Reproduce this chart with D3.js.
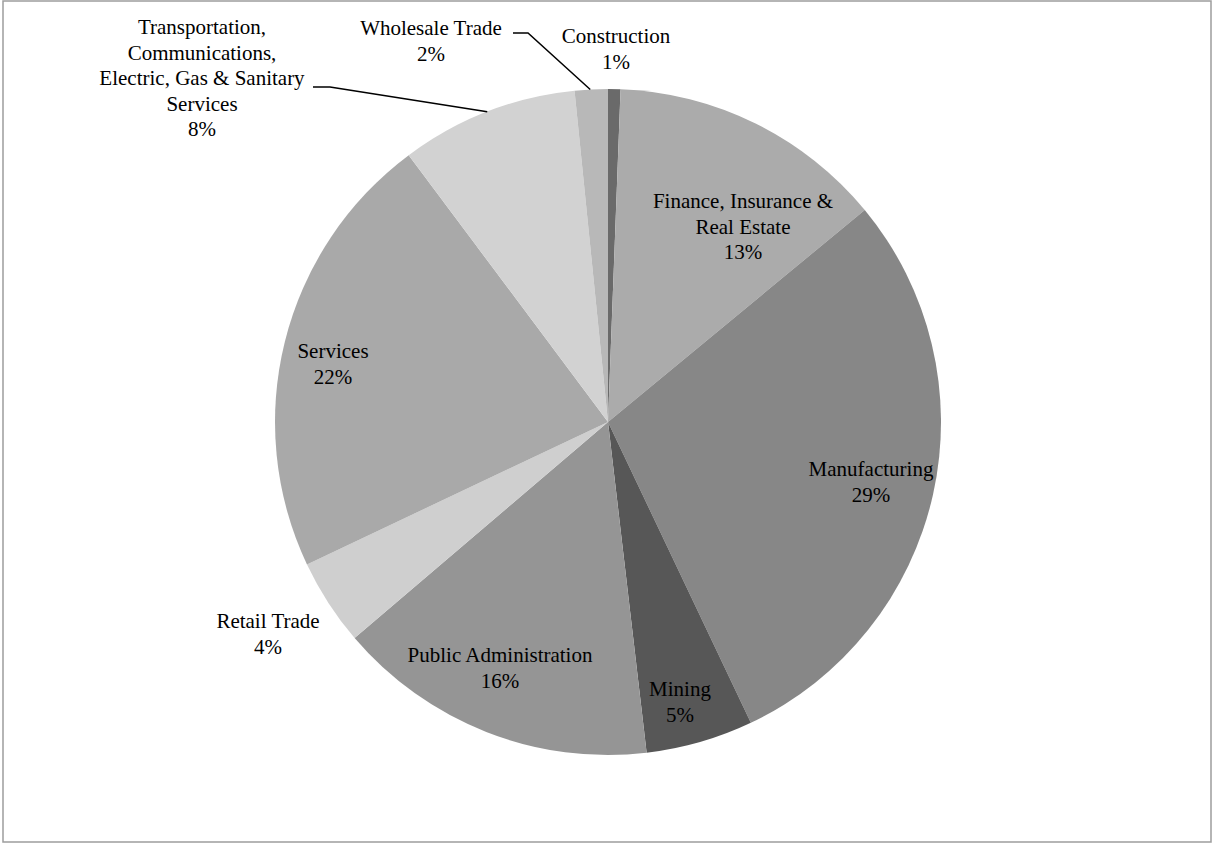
<!DOCTYPE html>
<html><head><meta charset="utf-8">
<script src="https://cdn.jsdelivr.net/npm/d3@7"></script>
<style>html,body{margin:0;padding:0;background:#fff;}svg{display:block;}</style>
</head><body>
<svg id="c" width="1212" height="843"></svg>
<script>
const categories = ["Construction","Finance, Insurance & Real Estate","Manufacturing","Mining","Public Administration","Retail Trade","Services","Transportation, Communications, Electric, Gas & Sanitary Services","Wholesale Trade"];
const values = [0.6, 13.4, 28.9, 5.2, 15.6, 4.2, 21.8, 8.6, 1.6];
const percentLabels = ["1%","13%","29%","5%","16%","4%","22%","8%","2%"];
const labelLines = [
  ["Construction"],
  ["Finance, Insurance &","Real Estate"],
  ["Manufacturing"],
  ["Mining"],
  ["Public Administration"],
  ["Retail Trade"],
  ["Services"],
  ["Transportation,","Communications,","Electric, Gas & Sanitary","Services"],
  ["Wholesale Trade"]
];
const colors = ["#6a6a6a","#ababab","#878787","#575757","#959595","#cfcfcf","#a9a9a9","#d2d2d2","#b8b8b8"];

const W = 1212, H = 843;
const cx = 608, cy = 422, R = 333;
const svg = d3.select("#c");

svg.append("rect").attr("x",3).attr("y",1).attr("width",1208).attr("height",841)
  .attr("fill","#fff").attr("stroke","#9d9d9d").attr("stroke-width",1.5);

const pie = d3.pie().sort(null).value(d => d)(values);
const arc = d3.arc().innerRadius(0).outerRadius(R);
const g = svg.append("g").attr("transform",`translate(${cx},${cy})`);
g.selectAll("path").data(pie).join("path")
  .attr("d", arc).attr("fill",(d,i)=>colors[i]);

// label placement: centre (x) and first baseline (y) in page coordinates
const labelPos = [
  [616, 43], [743, 208], [871, 476], [680, 696], [500, 662], [268, 628], [333, 358], [202, 34], [431, 35]
];
const lh = 25.5;
const labels = svg.append("g").attr("font-family","'Liberation Serif','Times New Roman',serif")
  .attr("font-size",21).attr("fill","#000").attr("text-anchor","middle");
categories.forEach((c,i)=>{
  const lines = labelLines[i].concat([percentLabels[i]]);
  const t = labels.append("text").attr("x",labelPos[i][0]).attr("y",labelPos[i][1]);
  lines.forEach((l,j)=>{
    t.append("tspan").attr("x",labelPos[i][0]).attr("dy", j===0?0:lh).text(l);
  });
});

// leader lines (Transportation and Wholesale)
function edgePoint(i, frac){
  const d = pie[i];
  const a = d.startAngle + (d.endAngle - d.startAngle)*frac;
  return [cx + R*Math.sin(a), cy - R*Math.cos(a)];
}
const leaders = [
  {i:7, start:[313,87], knee:[330,87], frac:0.5},
  {i:8, start:[513,33], knee:[528,33], frac:0.47}
];
leaders.forEach(L=>{
  const p = edgePoint(L.i, L.frac);
  svg.append("polyline").attr("points",[L.start,L.knee,p].map(q=>q.join(",")).join(" "))
    .attr("fill","none").attr("stroke","#000").attr("stroke-width",1.5);
});
</script>
</body></html>
